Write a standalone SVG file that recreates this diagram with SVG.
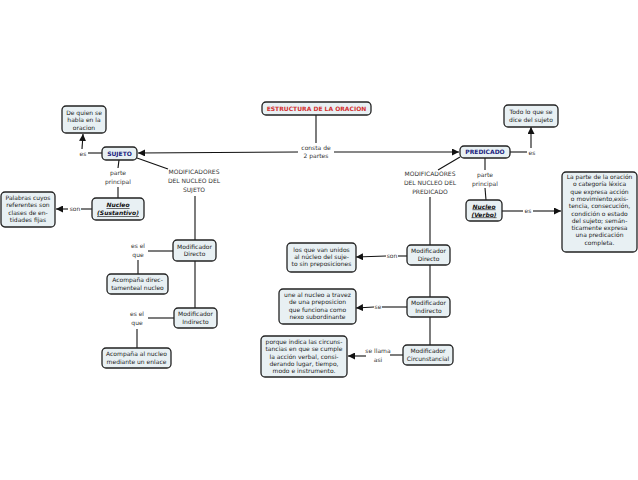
<svg xmlns="http://www.w3.org/2000/svg" width="638" height="480" viewBox="0 0 638 480">
<defs>
<marker id="ah" viewBox="0 0 10 10" refX="10" refY="5" markerWidth="7" markerHeight="7" markerUnits="userSpaceOnUse" orient="auto">
<path d="M0,0 L10,5 L0,10 z" fill="#111"/>
</marker>
</defs>
<style>
.box{fill:#e8f0f3;stroke:#222;stroke-width:1.3}
.t{font-family:"DejaVu Sans",Verdana,sans-serif;font-size:6px;fill:#222;text-anchor:middle}
.l{font-family:"DejaVu Sans",Verdana,sans-serif;font-size:6px;fill:#333;text-anchor:middle}
.b{font-weight:bold;fill:#1a237e}
.bi{font-weight:bold;font-style:italic;text-decoration:underline;fill:#111}
.c{stroke:#111;stroke-width:1.1;fill:none}
.a{stroke:#111;stroke-width:1.1;fill:none;marker-end:url(#ah)}
</style>
<rect width="638" height="480" fill="#fff"/>
<g id="connectors">
<line class="c" x1="316" y1="115" x2="316" y2="143"/>
<line class="a" x1="298" y1="152" x2="138" y2="153"/>
<line class="a" x1="334" y1="152" x2="459" y2="152"/>
<line class="c" x1="102" y1="153" x2="88" y2="153"/>
<line class="a" x1="82" y1="149" x2="83" y2="134"/>
<line class="c" x1="119" y1="160" x2="118" y2="168"/>
<line class="c" x1="118" y1="187" x2="118" y2="198"/>
<line class="c" x1="92" y1="209" x2="81" y2="209"/>
<line class="a" x1="68" y1="209" x2="56" y2="209"/>
<line class="c" x1="137" y1="158" x2="168" y2="169"/>
<line class="c" x1="195" y1="196" x2="195" y2="240"/>
<line class="c" x1="173" y1="251" x2="148" y2="251"/>
<line class="c" x1="138" y1="260" x2="138" y2="274"/>
<line class="c" x1="195" y1="261" x2="195" y2="308"/>
<line class="c" x1="174" y1="318" x2="148" y2="318"/>
<line class="c" x1="137" y1="329" x2="137" y2="348"/>
<line class="c" x1="510" y1="152" x2="527" y2="152"/>
<line class="a" x1="531" y1="148" x2="531" y2="127"/>
<line class="c" x1="485" y1="158" x2="485" y2="170"/>
<line class="c" x1="485" y1="188" x2="486" y2="200"/>
<line class="c" x1="502" y1="211" x2="523" y2="211"/>
<line class="a" x1="533" y1="211" x2="561" y2="211"/>
<line class="c" x1="460" y1="157" x2="438" y2="170"/>
<line class="c" x1="430" y1="197" x2="430" y2="245"/>
<line class="c" x1="407" y1="256" x2="398" y2="256"/>
<line class="a" x1="386" y1="256" x2="356" y2="257"/>
<line class="c" x1="430" y1="265" x2="430" y2="297"/>
<line class="c" x1="407" y1="307" x2="382" y2="307"/>
<line class="a" x1="374" y1="307" x2="356" y2="308"/>
<line class="c" x1="430" y1="317" x2="430" y2="345"/>
<line class="c" x1="403" y1="355" x2="390" y2="355"/>
<line class="a" x1="366" y1="356" x2="348" y2="356"/>
</g>
<g id="labels">
<text class="l" x="316" y="150">consta de</text>
<text class="l" x="316" y="158">2 partes</text>
<text class="l" x="83" y="156">es</text>
<text class="l" x="118" y="175">parte</text>
<text class="l" x="118" y="184">principal</text>
<text class="l" x="75" y="211">son</text>
<text class="l" x="194" y="174">MODIFICADORES</text>
<text class="l" x="194" y="183">DEL NUCLEO DEL</text>
<text class="l" x="194" y="192">SUJETO</text>
<text class="l" x="138" y="248">es el</text>
<text class="l" x="138" y="257">que</text>
<text class="l" x="137" y="316">es el</text>
<text class="l" x="137" y="325">que</text>
<text class="l" x="532" y="155">es</text>
<text class="l" x="485" y="177">parte</text>
<text class="l" x="485" y="186">principal</text>
<text class="l" x="528" y="213">es</text>
<text class="l" x="430" y="176">MODIFICADORES</text>
<text class="l" x="430" y="185">DEL NUCLEO DEL</text>
<text class="l" x="430" y="194">PREDICADO</text>
<text class="l" x="392" y="258">son</text>
<text class="l" x="378" y="309">se</text>
<text class="l" x="378" y="353">se llama</text>
<text class="l" x="378" y="362">asi</text>
</g>
<g id="n-estructura">
<rect class="box" x="262" y="102" width="109" height="13" rx="4"/>
<text class="t" x="316.5" y="110.5" style="font-weight:bold;fill:#d32f2f">ESTRUCTURA DE LA ORACION</text>
</g>
<g id="n-sujeto">
<rect class="box" x="102" y="147" width="35" height="13" rx="4"/>
<text class="t b" x="119.5" y="155.5">SUJETO</text>
</g>
<g id="n-dequien">
<rect class="box" x="62" y="106" width="44" height="27" rx="4"/>
<text class="t" x="84" y="115">De quien se</text>
<text class="t" x="84" y="122.3">habla en la</text>
<text class="t" x="84" y="129.6">oracion</text>
</g>
<g id="n-nucleo-s">
<rect class="box" x="92" y="198" width="52" height="22" rx="4"/>
<text class="t bi" x="118" y="207">Nucleo</text>
<text class="t bi" x="118" y="215">(Sustantivo)</text>
</g>
<g id="n-palabras">
<rect class="box" x="1" y="192" width="54" height="35" rx="4"/>
<text class="t" x="28" y="200">Palabras cuyos</text>
<text class="t" x="28" y="207.3">referentes son</text>
<text class="t" x="28" y="214.6">clases de en-</text>
<text class="t" x="28" y="221.9">tidades fijas</text>
</g>
<g id="n-moddir-s">
<rect class="box" x="173" y="240" width="43" height="21" rx="4"/>
<text class="t" x="194.5" y="248.5">Modificador</text>
<text class="t" x="194.5" y="256">Directo</text>
</g>
<g id="n-acomp1">
<rect class="box" x="107" y="274" width="61" height="20" rx="4"/>
<text class="t" x="137.5" y="282">Acompaña direc-</text>
<text class="t" x="137.5" y="289.5">tamenteal nucleo</text>
</g>
<g id="n-modind-s">
<rect class="box" x="174" y="308" width="43" height="20" rx="4"/>
<text class="t" x="195.5" y="316">Modificador</text>
<text class="t" x="195.5" y="323.5">Indirecto</text>
</g>
<g id="n-acomp2">
<rect class="box" x="102" y="348" width="69" height="20" rx="4"/>
<text class="t" x="136.5" y="356">Acompaña al nucleo</text>
<text class="t" x="136.5" y="363.5">mediante un enlace</text>
</g>
<g id="n-predicado">
<rect class="box" x="460" y="146" width="50" height="12" rx="4"/>
<text class="t b" x="485" y="154">PREDICADO</text>
</g>
<g id="n-todo">
<rect class="box" x="504" y="105" width="54" height="22" rx="4"/>
<text class="t" x="531" y="114">Todo lo que se</text>
<text class="t" x="531" y="121.5">dice del sujeto</text>
</g>
<g id="n-nucleo-v">
<rect class="box" x="466" y="200" width="36" height="21" rx="4"/>
<text class="t bi" x="484" y="208.5">Nucleo</text>
<text class="t bi" x="484" y="216.5">(Verbo)</text>
</g>
<g id="n-laparte">
<rect class="box" x="562" y="172" width="75" height="80" rx="4"/>
<text class="t" x="599.5" y="179">La parte de la oración</text>
<text class="t" x="599.5" y="186.3">o categoría léxica</text>
<text class="t" x="599.5" y="193.6">que expresa acción</text>
<text class="t" x="599.5" y="200.9">o movimiento,exis-</text>
<text class="t" x="599.5" y="208.2">tencia, consecución,</text>
<text class="t" x="599.5" y="215.5">condición o estado</text>
<text class="t" x="599.5" y="222.8">del sujeto; semán-</text>
<text class="t" x="599.5" y="230.1">ticamente expresa</text>
<text class="t" x="599.5" y="237.4">una predicación</text>
<text class="t" x="599.5" y="244.7">completa.</text>
</g>
<g id="n-moddir-p">
<rect class="box" x="407" y="245" width="43" height="20" rx="4"/>
<text class="t" x="428.5" y="253">Modificador</text>
<text class="t" x="428.5" y="260.5">Directo</text>
</g>
<g id="n-losque">
<rect class="box" x="287" y="243" width="69" height="29" rx="4"/>
<text class="t" x="321.5" y="251.5">los que van unidos</text>
<text class="t" x="321.5" y="258.8">al núcleo del suje-</text>
<text class="t" x="321.5" y="266.1">to sin preposiciones</text>
</g>
<g id="n-modind-p">
<rect class="box" x="407" y="297" width="43" height="20" rx="4"/>
<text class="t" x="428.5" y="305">Modificador</text>
<text class="t" x="428.5" y="312.5">Indirecto</text>
</g>
<g id="n-une">
<rect class="box" x="279" y="289" width="77" height="35" rx="4"/>
<text class="t" x="317.5" y="297">une al nucleo a travez</text>
<text class="t" x="317.5" y="304.3">de una preposicion</text>
<text class="t" x="317.5" y="311.6">que funciona como</text>
<text class="t" x="317.5" y="318.9">nexo subordinante</text>
</g>
<g id="n-modcirc">
<rect class="box" x="403" y="345" width="50" height="20" rx="4"/>
<text class="t" x="428" y="353">Modificador</text>
<text class="t" x="428" y="360.5">Circunstancial</text>
</g>
<g id="n-porque">
<rect class="box" x="261" y="336" width="86" height="41" rx="4"/>
<text class="t" x="304" y="344">porque indica las circuns-</text>
<text class="t" x="304" y="351.3">tancias en que se cumple</text>
<text class="t" x="304" y="358.6">la acción verbal, consi-</text>
<text class="t" x="304" y="365.9">derando lugar, tiempo,</text>
<text class="t" x="304" y="373.2">modo e instrumento.</text>
</g>
</svg>
